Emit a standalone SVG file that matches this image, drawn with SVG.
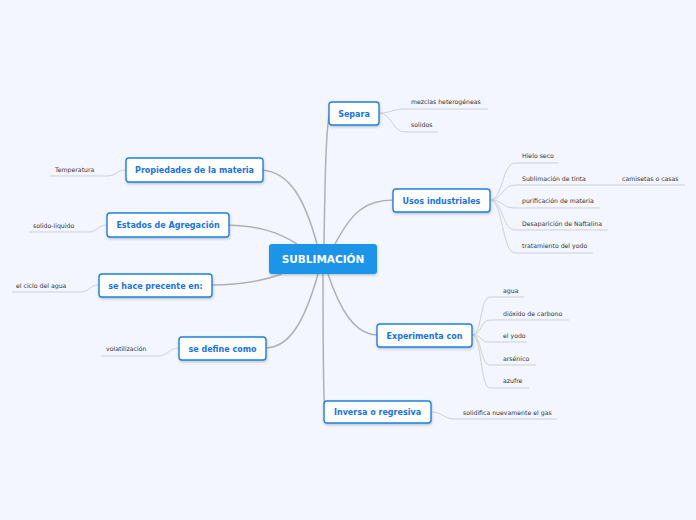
<svg xmlns="http://www.w3.org/2000/svg" width="696" height="520" viewBox="0 0 696 520">
<defs>
<filter id="sh" x="-20%" y="-30%" width="140%" height="170%">
<feDropShadow dx="0.5" dy="1.5" stdDeviation="1" flood-color="#5a6a80" flood-opacity="0.35"/>
</filter>
</defs>
<style>
.bg{fill:#f3f6fe}
.node rect{fill:#ffffff;stroke:#1e80dd;stroke-width:1.4}
.node text{font-family:"DejaVu Sans",sans-serif;font-weight:bold;font-size:8px;fill:#1a73dc;text-anchor:middle}
.root rect{fill:#1b95e8}
.root text{font-family:"DejaVu Sans",sans-serif;font-weight:bold;font-size:10.5px;fill:#ffffff;text-anchor:middle}
.main path{fill:none;stroke:#b0b0b3;stroke-width:1.5}
.leafc path{fill:none;stroke:#cfcfd4;stroke-width:1}
.leaf text{font-family:"DejaVu Sans",sans-serif;font-size:6.2px;fill:#333333}
</style>
<rect class="bg" x="0" y="0" width="696" height="520"/>
<g id="connectors">
<g class="main">
<path d="M324,244 C325,180 326,122 330,113"/>
<path d="M335,244 C352,212 365,200 394,200"/>
<path d="M317,244 C305,200 290,172 262,170"/>
<path d="M297,244 C275,230 255,226 228,225"/>
<path d="M282,274 C260,282 240,285 211,285"/>
<path d="M318,274 C305,320 290,348 265,348"/>
<path d="M328,274 C340,310 355,335 378,335"/>
<path d="M323,274 C323,350 323,400 325,412"/>
</g>
<g class="leafc">
<path d="M379,113 C392,113 392,109 405,109 L488,109"/>
<path d="M379,113 C392,113 392,132 405,132 L438,132"/>
<path d="M490,200 C503,200 502,163 515,163 L559,163"/>
<path d="M490,200 C503,200 502,185 515,185 L685,185"/>
<path d="M490,200 C503,200 502,208 515,208 L600,208"/>
<path d="M490,200 C503,200 502,230 515,230 L608,230"/>
<path d="M490,200 C503,200 502,253 515,253 L593,253"/>
<path d="M472,335 C482,335 480,297 490,297 L524,297"/>
<path d="M472,335 C482,335 480,320 490,320 L569,320"/>
<path d="M472,335 C482,335 480,342 490,342 L527,342"/>
<path d="M472,335 C482,335 480,365 490,365 L536,365"/>
<path d="M472,335 C482,335 480,388 490,388 L529,388"/>
<path d="M431,412 C443,412 443,419 455,419 L557,419"/>
<path d="M126,170 C116,170 117,176 107,176 L50,176"/>
<path d="M107,225 C97,225 98,232 88,232 L29,232"/>
<path d="M99,285 C89,285 90,292 80,292 L12,292"/>
<path d="M179,348 C169,348 168,356 158,356 L101,356"/>
</g>
</g>
<g id="n-root" class="root"><rect x="269" y="244" width="108" height="30" rx="3" filter="url(#sh)"/><text x="323" y="262.8">SUBLIMACIÓN</text></g>
<g id="n-separa" class="node"><rect x="329" y="102" width="50" height="23" rx="3" filter="url(#sh)"/><text x="354" y="116.5">Separa</text></g>
<g id="n-usos" class="node"><rect x="393" y="189" width="97" height="23" rx="3" filter="url(#sh)"/><text x="441.5" y="203.5">Usos industriales</text></g>
<g id="n-prop" class="node"><rect x="126" y="158" width="137" height="24" rx="3" filter="url(#sh)"/><text x="194.5" y="173">Propiedades de la materia</text></g>
<g id="n-estados" class="node"><rect x="107" y="213" width="122" height="24" rx="3" filter="url(#sh)"/><text x="168" y="228">Estados de Agregación</text></g>
<g id="n-hace" class="node"><rect x="99" y="274" width="113" height="23" rx="3" filter="url(#sh)"/><text x="155.5" y="288.5">se hace precente en:</text></g>
<g id="n-define" class="node"><rect x="179" y="337" width="87" height="23" rx="3" filter="url(#sh)"/><text x="222.5" y="351.5">se define como</text></g>
<g id="n-exp" class="node"><rect x="377" y="324" width="95" height="23" rx="3" filter="url(#sh)"/><text x="424.5" y="338.5">Experimenta con</text></g>
<g id="n-inv" class="node"><rect x="324" y="401" width="107" height="22" rx="3" filter="url(#sh)"/><text x="377.5" y="415">Inversa o regresiva</text></g>
<g id="l-mezclas" class="leaf"><text x="411" y="103.5">mezclas heterogéneas</text></g>
<g id="l-solidos" class="leaf"><text x="411" y="126.5">solidos</text></g>
<g id="l-hielo" class="leaf"><text x="522" y="158">Hielo seco</text></g>
<g id="l-tinta" class="leaf"><text x="522" y="180.5">Sublimación de tinta</text></g>
<g id="l-camisetas" class="leaf"><text x="622" y="180.5">camisetas o casas</text></g>
<g id="l-purif" class="leaf"><text x="522" y="203">purificación de materia</text></g>
<g id="l-naft" class="leaf"><text x="522" y="225.5">Desaparición de Naftalina</text></g>
<g id="l-trat" class="leaf"><text x="522" y="248">tratamiento del yodo</text></g>
<g id="l-agua" class="leaf"><text x="503" y="293">agua</text></g>
<g id="l-dioxido" class="leaf"><text x="503" y="315.5">dióxido de carbono</text></g>
<g id="l-yodo" class="leaf"><text x="503" y="338">el yodo</text></g>
<g id="l-arsenico" class="leaf"><text x="503" y="360.5">arsénico</text></g>
<g id="l-azufre" class="leaf"><text x="503" y="382.5">azufre</text></g>
<g id="l-solidifica" class="leaf"><text x="463" y="414.5">solidifica nuevamente el gas</text></g>
<g id="l-temp" class="leaf"><text x="55" y="171.5">Temperatura</text></g>
<g id="l-solliq" class="leaf"><text x="33" y="227.5">solido-liquido</text></g>
<g id="l-ciclo" class="leaf"><text x="16" y="288">el ciclo del agua</text></g>
<g id="l-volat" class="leaf"><text x="106" y="351">volatilización</text></g>
</svg>
